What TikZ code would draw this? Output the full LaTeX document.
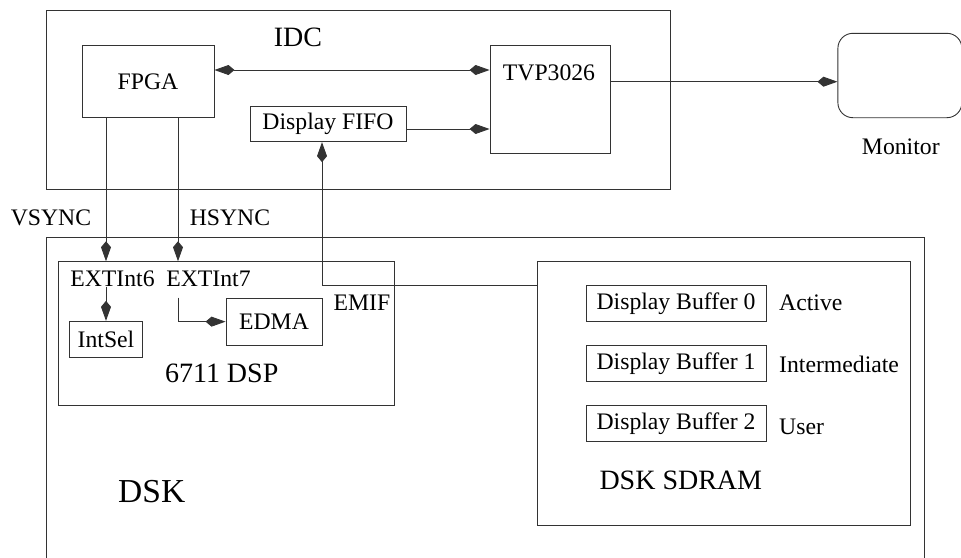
\documentclass[tikz,border=0pt]{standalone}
\usepackage{fontspec}
\setmainfont{Liberation Serif}
\usetikzlibrary{arrows.meta}

\newcommand{\normsize}{\fontsize{23.7}{28}\selectfont}
\newcommand{\midsize}{\fontsize{28}{33}\selectfont}
\newcommand{\bigsize}{\fontsize{33.5}{40}\selectfont}

\tikzset{
  block/.style={draw=black!80, line width=0.9pt, inner sep=0pt, font=\normsize},
  lbl/.style={inner sep=0pt, font=\normsize},
  wire/.style={draw=black!80, line width=0.9pt, -{Kite[length=20pt, width=10pt, inset=6pt]}},
  biwire/.style={draw=black!80, line width=0.9pt, {Kite[length=20pt, width=10pt, inset=6pt]}-{Kite[length=20pt, width=10pt, inset=6pt]}},
}

\begin{document}
\begin{tikzpicture}[x=1pt, y=-1pt]
  \useasboundingbox (0,0) rectangle (961,557);
  \clip (0,0) rectangle (961,557);
  % IDC board
  \node[block, minimum width=624pt, minimum height=179pt] (idc) at (358,99.5) {};
  \node[lbl, font=\midsize] (idclabel) at (298,37) {IDC};
  \node[block, minimum width=132pt, minimum height=72pt] (fpga) at (148,81.7) {FPGA};
  \node[block, minimum width=120pt, minimum height=108pt] (tvp) at (550,99.7) {};
  \node[lbl] (tvplabel) at (549,73) {TVP3026};
  \node[block, minimum width=156pt, minimum height=35.7pt] (fifo) at (328,123.85) {Display FIFO};
  % monitor
  \node[block, rounded corners=15pt, minimum width=124pt, minimum height=84.4pt] (mon) at (899.9,75.5) {};
  \node[lbl] (monlabel) at (900.8,146.7) {Monitor};
  % DSK board
  \node[block, minimum width=878.3pt, minimum height=342.3pt] (dsk) at (485.15,408.85) {};
  \node[lbl, font=\bigsize] (dsklabel) at (151.7,492) {DSK};
  \node[block, minimum width=336pt, minimum height=143.6pt] (dsp) at (226,333.5) {};
  \node[lbl, font=\midsize] (dsplabel) at (221.7,373) {6711 DSP};
  \node[lbl] (ext6) at (112.5,278.5) {EXTInt6};
  \node[lbl] (ext7) at (208.5,278.5) {EXTInt7};
  \node[block, minimum width=72.6pt, minimum height=36.4pt] (intsel) at (106,339.5) {IntSel};
  \node[block, minimum width=96pt, minimum height=47.3pt] (edma) at (274,321.65) {EDMA};
  \node[lbl] (emif) at (362,302.7) {EMIF};
  % SDRAM and buffers
  \node[block, minimum width=373pt, minimum height=263.6pt] (sdram) at (724.2,393.5) {};
  \node[lbl, font=\midsize] (sdramlabel) at (680.8,480) {DSK SDRAM};
  \node[block, minimum width=180pt, minimum height=35.6pt] (buf0) at (676,303.5) {Display Buffer 0};
  \node[block, minimum width=180pt, minimum height=35.6pt] (buf1) at (676,363.7) {Display Buffer 1};
  \node[block, minimum width=180pt, minimum height=35.6pt] (buf2) at (676,423.5) {Display Buffer 2};
  \node[lbl, anchor=west] (active) at (779,302.7) {Active};
  \node[lbl, anchor=west] (inter) at (779,364.3) {Intermediate};
  \node[lbl, anchor=west] (user) at (779,427) {User};
  % sync lines
  \coordinate (vs) at (106,0);
  \coordinate (hs) at (178,0);
  \draw[wire] (fpga.south -| vs) -- (dsp.north -| vs);
  \draw[wire] (fpga.south -| hs) -- (dsp.north -| hs);
  \node[lbl] (vsync) at (51,218) {VSYNC};
  \node[lbl] (hsync) at (230,218) {HSYNC};
  \draw[wire] (intsel.north |- ext6.south) -- (intsel.north);
  \draw[wire] (hs |- edma.north) |- (edma.west);
  % IDC internal
  \coordinate (fp) at ([yshift=11.7pt]fpga.east);
  \draw[biwire] (fp) -- (fp -| tvp.west);
  \coordinate (ff) at ([yshift=-5.15pt]fifo.east);
  \draw[wire] (ff) -- (ff -| tvp.west);
  \coordinate (tm) at ([yshift=-6.2pt]mon.west);
  \draw[wire] (tm -| tvp.east) -- (tm);
  % EMIF bus
  \coordinate (emifc) at (322,285.7);
  \draw[wire] (sdram.west |- emifc) -- (emifc) -- (emifc |- fifo.south);
\end{tikzpicture}
\end{document}
